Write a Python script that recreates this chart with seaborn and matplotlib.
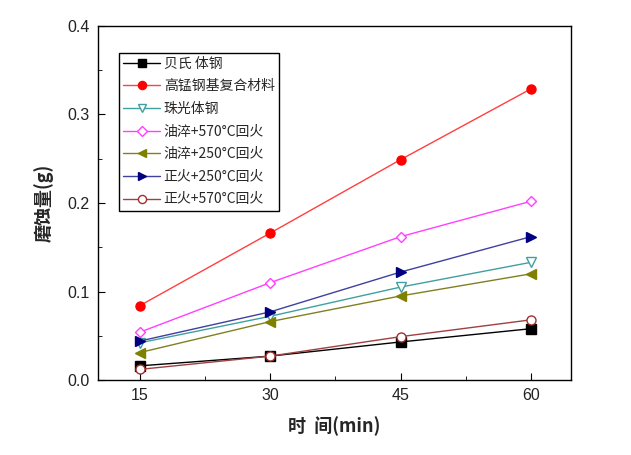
import matplotlib
matplotlib.use("Agg")
import matplotlib.pyplot as plt
import seaborn as sns
from matplotlib.ticker import MultipleLocator, FormatStrFormatter

# 磨蚀量随时间变化的数据
time_min = [15, 30, 45, 60]
beishi = [0.016, 0.027, 0.043, 0.058]
gaomeng = [0.084, 0.166, 0.249, 0.329]
zhuguang = [0.042, 0.072, 0.105, 0.133]
youcui570 = [0.054, 0.110, 0.162, 0.202]
youcui250 = [0.031, 0.066, 0.095, 0.120]
zhenghuo250 = [0.044, 0.077, 0.122, 0.162]
zhenghuo570 = [0.012, 0.027, 0.049, 0.068]

labels = ["贝氏 体钢", "高锰钢基复合材料", "珠光体钢", "油淬+570\u00b0C回火",
          "油淬+250\u00b0C回火", "正火+250\u00b0C回火", "正火+570\u00b0C回火"]
series = [beishi, gaomeng, zhuguang, youcui570, youcui250, zhenghuo250, zhenghuo570]

# 样式: (线色, 标记色, 标记, 空心)
styles = [
    ("#000000", "#000000", "s", False),
    ("#FF4040", "#FF0000", "o", False),
    ("#40A0A0", "#40A0A0", "v", True),
    ("#FF40FF", "#FF40FF", "D", True),
    ("#808020", "#808000", "<", False),
    ("#4040A0", "#000080", ">", False),
    ("#A04040", "#A03030", "o", True),
]

sns.set_style("ticks")
plt.rcParams["font.family"] = ["Noto Sans CJK SC", "DejaVu Sans"]

fig = plt.figure(figsize=(6.31, 4.55), dpi=100)
ax = fig.add_axes([0.1553, 0.1648, 0.7497, 0.7781])

for vals, lab, (lc, mc, mk, hollow) in zip(series, labels, styles):
    sns.lineplot(x=time_min, y=vals, ax=ax, color=lc, marker=mk,
                 markersize=5.5 if mk == "D" else 6.5,
                 markerfacecolor="white" if hollow else mc, markeredgecolor=mc,
                 markeredgewidth=1.0, linewidth=1.0, label=lab)

ax.set_xlim(10.2, 64.6)
ax.set_ylim(0, 0.4)
ax.set_xticks(time_min)
ax.xaxis.set_minor_locator(MultipleLocator(7.5))
ax.yaxis.set_major_locator(MultipleLocator(0.1))
ax.yaxis.set_minor_locator(MultipleLocator(0.05))
ax.yaxis.set_major_formatter(FormatStrFormatter("%.1f"))
ax.tick_params(which="both", direction="in", top=False, right=False, labelsize=11.5,
               colors="#000000", labelcolor="#222222", pad=6)
ax.tick_params(which="major", length=5)
ax.tick_params(which="minor", length=3)
for t in ax.get_xticklabels() + ax.get_yticklabels():
    t.set_family("Liberation Sans")
for s in ax.spines.values():
    s.set_color("#000000")
    s.set_linewidth(1.0)

ax.set_xlabel("时  间(min)", fontsize=13, fontweight="bold", labelpad=9)
ax.set_ylabel("磨蚀量(g)", fontsize=13, fontweight="bold", labelpad=10)

leg = ax.legend(loc="upper left", bbox_to_anchor=(0.045, 0.925), fontsize=10,
                frameon=True, fancybox=False, edgecolor="#000000", framealpha=1,
                handlelength=2.6, handletextpad=0.3, borderpad=0.3, labelspacing=0.62,
                borderaxespad=0, markerscale=0.9)
leg.get_frame().set_linewidth(1.0)

fig.savefig("out.png", dpi=100)
